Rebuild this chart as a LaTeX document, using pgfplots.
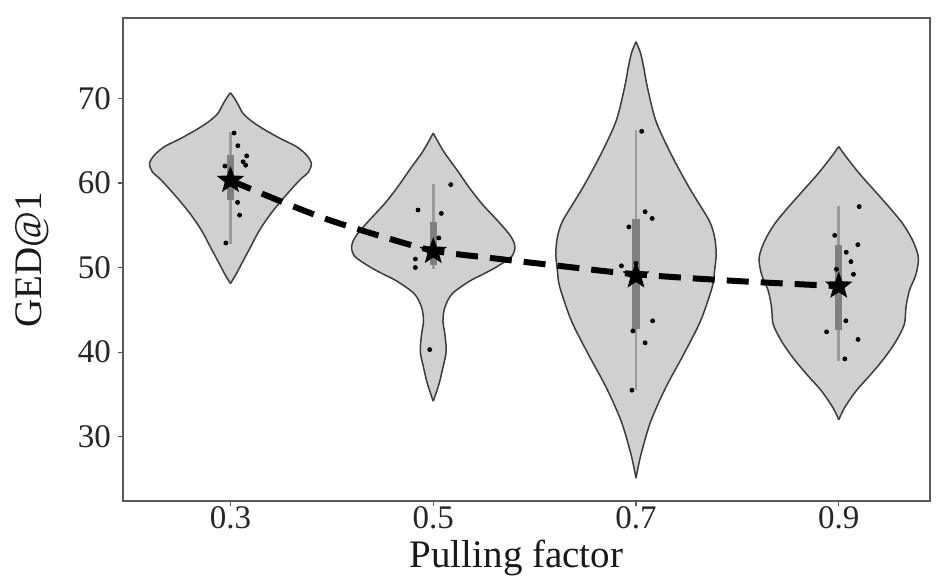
\documentclass[border=0pt]{standalone}
\usepackage{pgfplots}
\pgfplotsset{compat=1.18}
\usepackage{pgfplotstable}
\usepgfplotslibrary{fillbetween}
\usepackage{fontspec}
\setmainfont{Liberation Serif}
\definecolor{vfill}{RGB}{208,208,208}
\definecolor{vline}{RGB}{60,60,60}
\definecolor{whisk}{RGB}{155,155,155}
\definecolor{boxc}{RGB}{128,128,128}
\definecolor{frame}{RGB}{90,90,90}

\pgfdeclareplotmark{fstar}{%
  \pgfpathmoveto{\pgfpointpolar{90}{\pgfplotmarksize}}%
  \pgfpathlineto{\pgfpointpolar{126}{0.42\pgfplotmarksize}}%
  \pgfpathlineto{\pgfpointpolar{162}{\pgfplotmarksize}}%
  \pgfpathlineto{\pgfpointpolar{198}{0.42\pgfplotmarksize}}%
  \pgfpathlineto{\pgfpointpolar{234}{\pgfplotmarksize}}%
  \pgfpathlineto{\pgfpointpolar{270}{0.42\pgfplotmarksize}}%
  \pgfpathlineto{\pgfpointpolar{306}{\pgfplotmarksize}}%
  \pgfpathlineto{\pgfpointpolar{342}{0.42\pgfplotmarksize}}%
  \pgfpathlineto{\pgfpointpolar{18}{\pgfplotmarksize}}%
  \pgfpathlineto{\pgfpointpolar{54}{0.42\pgfplotmarksize}}%
  \pgfpathclose
  \pgfusepathqfill}

% violin profiles: v = value, w = half width (x units)
\pgfplotstableread{
v w
70.66 0
70.0 0.004
69.2 0.0079
68.2 0.0125
67.2 0.022
66.2 0.035
65.2 0.05
64.3 0.065
63.3 0.075
62.3 0.0798
61.3 0.077
60.3 0.068
58.3 0.053
56.4 0.040
54.4 0.0286
52.4 0.0197
50.4 0.0108
49.3 0.006
48.1 0
}\vA
\pgfplotstableread{
v w
65.9 0
64.8 0.005
63.5 0.0115
61.5 0.0236
59.5 0.0352
57.5 0.0483
55.6 0.063
54.0 0.0746
53.0 0.0795
52.2 0.0805
51.4 0.078
50.8 0.0720
49.9 0.060
49.2 0.049
48.4 0.036
46.9 0.0187
45.3 0.0115
43.7 0.0096
42.1 0.0115
40.1 0.0128
38.2 0.0096
36.2 0.0056
34.2 0
}\vB
\pgfplotstableread{
v w
76.7 0
75.3 0.0046
73.4 0.008
71.4 0.0111
67.4 0.0194
63.5 0.0342
59.5 0.0522
55.6 0.0719
53.6 0.0775
51.6 0.0791
49.6 0.0775
47.7 0.0752
43.7 0.0637
39.8 0.0473
35.8 0.0293
31.8 0.0145
27.9 0.0049
25.1 0
}\vC
\pgfplotstableread{
v w
64.3 0
63.1 0.0072
61.1 0.0204
59.1 0.0352
57.1 0.05
55.2 0.063
53.2 0.0729
51.2 0.0785
49.2 0.0762
47.3 0.0697
45.3 0.0663
43.3 0.0647
41.3 0.0565
39.3 0.045
37.4 0.0318
35.4 0.017
33.4 0.0056
32.0 0
}\vD

\begin{document}
\begin{tikzpicture}
\begin{axis}[
  scale only axis,
  width=403.5pt, height=241.5pt,
  xmin=0.194, xmax=0.99, ymin=22.4, ymax=79.5,
  xtick={0.3,0.5,0.7,0.9}, xticklabels={0.3,0.5,0.7,0.9},
  ytick={30,40,50,60,70},
  xtick pos=bottom, ytick pos=left,
  tick align=outside, major tick length=2.5pt,
  tick style={draw=frame, line width=0.6pt},
  axis line style={draw=frame, line width=0.6pt},
  /pgf/number format/assume math mode=true,
  ticklabel style={font=\fontsize{16.5}{18}\selectfont, text=black!85},
  xticklabel style={yshift=1pt, inner sep=1pt},
  xlabel={Pulling factor}, ylabel={GED@1},
  label style={font=\fontsize{19.5}{22}\selectfont, text=black!90, inner sep=1pt},
  xlabel style={at={(axis description cs:0.4876,-0.1387)}, anchor=base},
  ylabel style={at={(axis description cs:-0.1128,0.5)}, anchor=center},
  clip=false,
]
% violins
\addplot[name path=RA, draw=vline, line width=0.75pt, smooth] table[x expr=0.3+\thisrow{w}, y=v]{\vA};
\addplot[name path=LA, draw=vline, line width=0.75pt, smooth] table[x expr=0.3-\thisrow{w}, y=v]{\vA};
\addplot[vfill] fill between[of=RA and LA];
\addplot[name path=RB, draw=vline, line width=0.75pt, smooth] table[x expr=0.5+\thisrow{w}, y=v]{\vB};
\addplot[name path=LB, draw=vline, line width=0.75pt, smooth] table[x expr=0.5-\thisrow{w}, y=v]{\vB};
\addplot[vfill] fill between[of=RB and LB];
\addplot[name path=RC, draw=vline, line width=0.75pt, smooth] table[x expr=0.7+\thisrow{w}, y=v]{\vC};
\addplot[name path=LC, draw=vline, line width=0.75pt, smooth] table[x expr=0.7-\thisrow{w}, y=v]{\vC};
\addplot[vfill] fill between[of=RC and LC];
\addplot[name path=RD, draw=vline, line width=0.75pt, smooth] table[x expr=0.9+\thisrow{w}, y=v]{\vD};
\addplot[name path=LD, draw=vline, line width=0.75pt, smooth] table[x expr=0.9-\thisrow{w}, y=v]{\vD};
\addplot[vfill] fill between[of=RD and LD];
% whiskers
\addplot[whisk, line width=1.4pt] coordinates {(0.3,52.8) (0.3,66.0)};
\addplot[whisk, line width=1.4pt] coordinates {(0.5,49.8) (0.5,59.9)};
\addplot[whisk, line width=1.4pt] coordinates {(0.7,35.5) (0.7,66.2)};
\addplot[whisk, line width=1.4pt] coordinates {(0.9,39.0) (0.9,57.3)};
% boxes
\addplot[boxc, line width=3.6pt] coordinates {(0.3,58.0) (0.3,63.3)};
\addplot[boxc, line width=3.6pt] coordinates {(0.5,50.3) (0.5,55.4)};
\addplot[boxc, line width=3.6pt] coordinates {(0.7,42.7) (0.7,55.7)};
\addplot[boxc, line width=3.6pt] coordinates {(0.9,42.6) (0.9,52.7)};
% jittered points
\addplot[only marks, mark=*, mark size=1pt, black] coordinates {
(0.3036,65.9) (0.3073,64.4) (0.316,63.2) (0.3125,62.5) (0.315,62.1)
(0.2945,62.0) (0.307,57.7) (0.309,56.2) (0.2955,52.9)
(0.5173,59.8) (0.485,56.8) (0.508,56.4) (0.5055,53.5) (0.4824,51.0)
(0.4824,50.0) (0.4965,40.3)
(0.7056,66.1) (0.709,56.6) (0.716,55.8) (0.693,54.8) (0.6856,50.2)
(0.7,50.5) (0.7164,43.7) (0.697,42.5) (0.709,41.1) (0.696,35.5)
(0.9201,57.2) (0.896,53.8) (0.9188,52.7) (0.9074,51.8) (0.912,50.7)
(0.8977,49.8) (0.9145,49.2) (0.907,43.7) (0.888,42.4) (0.919,41.5)
(0.906,39.2)
};
% trend line
\addplot[black, line width=3pt, dash pattern=on 11pt off 6pt, smooth] coordinates {
(0.3,60.3) (0.344,58.1) (0.393,55.8) (0.443,53.9) (0.5,52.0)
(0.559,51.1) (0.624,50.2) (0.7,49.2) (0.8,48.4) (0.9,47.8)
};
% means
\addplot[only marks, mark=fstar, mark size=7.2pt, black] coordinates {
(0.3,60.3) (0.5,51.9) (0.7,49.0) (0.9,47.8)
};
\end{axis}
\pgfresetboundingbox
\path (current axis.south west) ++(-61.5pt,-37.5pt) rectangle ++(471pt,288pt);
\end{tikzpicture}
\end{document}
